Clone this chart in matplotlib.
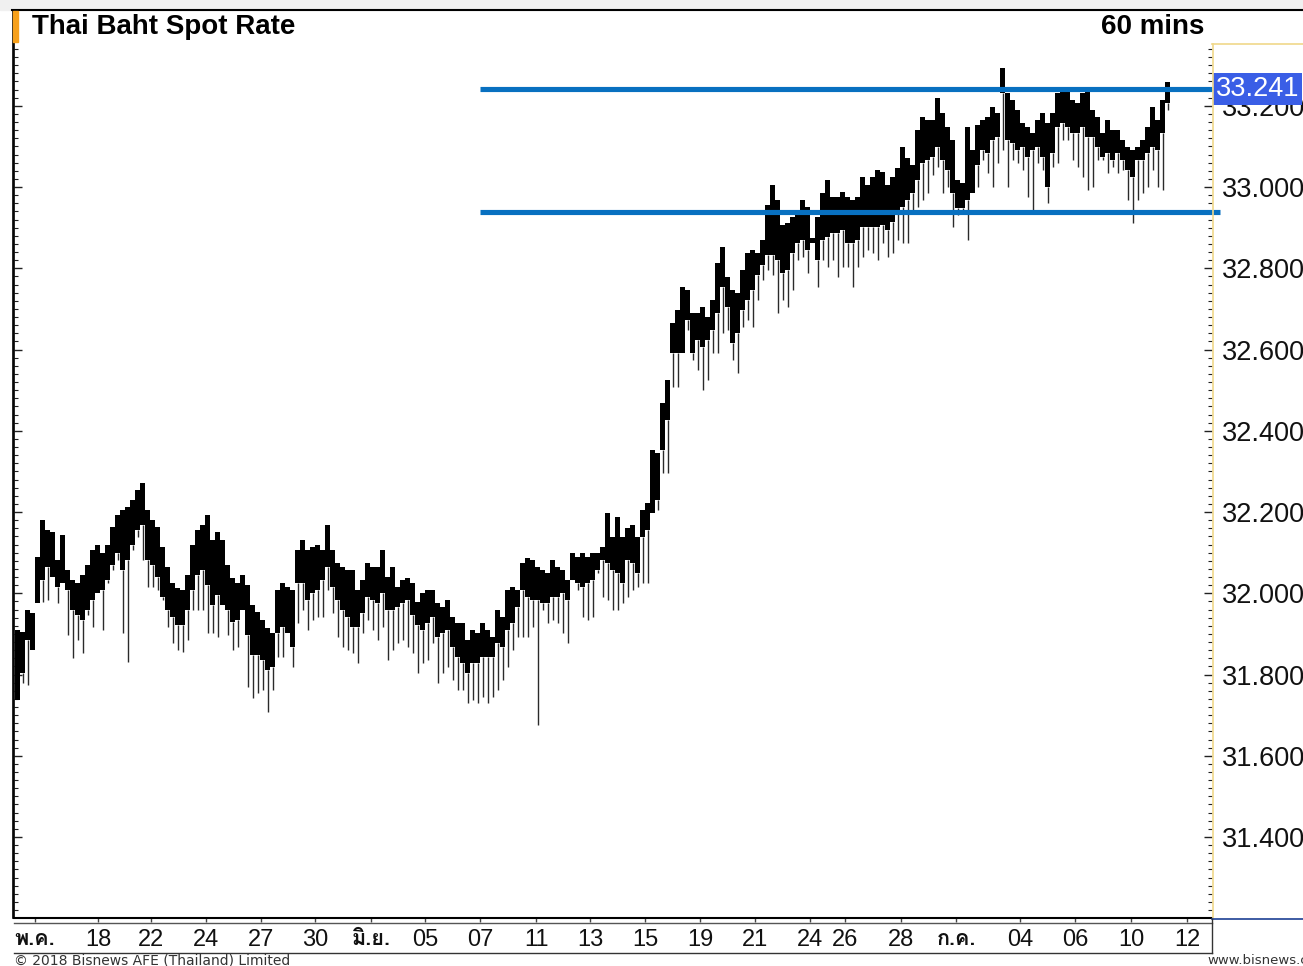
import matplotlib
matplotlib.use('Agg')
import matplotlib.pyplot as plt
import matplotlib.ticker as mticker
import matplotlib.transforms as mtransforms
from matplotlib import font_manager
from matplotlib.ft2font import FT2Font
from matplotlib.lines import Line2D
from matplotlib.patches import Rectangle

# 60 min bars, grouped: top of range, bottom of dense body, lowest wick
highs = [
    31.910, 31.905, 31.959, 31.951, 32.089, 32.180, 32.156, 32.151, 32.082, 32.143,
    32.057, 32.033, 32.025, 32.045, 32.070, 32.106, 32.119, 32.099, 32.119, 32.163,
    32.193, 32.205, 32.212, 32.230, 32.254, 32.271, 32.205, 32.180, 32.163, 32.114,
    32.065, 32.025, 32.013, 32.008, 32.045, 32.119, 32.156, 32.168, 32.193, 32.131,
    32.151, 32.131, 32.070, 32.038, 32.025, 32.045, 32.020, 31.971, 31.954, 31.934,
    31.914, 31.902, 32.008, 32.025, 32.015, 32.008, 32.106, 32.131, 32.106, 32.114,
    32.119, 32.106, 32.168, 32.106, 32.074, 32.065, 32.057, 32.057, 32.008, 32.033,
    32.074, 32.065, 32.065, 32.106, 32.040, 32.065, 32.015, 32.033, 32.038, 32.025,
    31.978, 32.000, 32.008, 32.008, 31.976, 31.966, 31.983, 31.942, 31.927, 31.927,
    31.885, 31.910, 31.902, 31.927, 31.910, 31.892, 31.959, 31.942, 32.008, 32.015,
    32.008, 32.074, 32.087, 32.082, 32.065, 32.057, 32.050, 32.082, 32.065, 32.057,
    32.033, 32.099, 32.089, 32.099, 32.089, 32.099, 32.099, 32.114, 32.198, 32.138,
    32.188, 32.138, 32.161, 32.168, 32.138, 32.205, 32.222, 32.353, 32.345, 32.468,
    32.525, 32.665, 32.697, 32.754, 32.746, 32.690, 32.690, 32.705, 32.680, 32.722,
    32.813, 32.852, 32.778, 32.746, 32.739, 32.796, 32.838, 32.845, 32.838, 32.870,
    32.956, 33.005, 32.968, 32.906, 32.911, 32.926, 32.936, 32.968, 32.951, 32.874,
    32.926, 32.985, 33.017, 32.975, 32.975, 32.988, 32.975, 32.968, 32.975, 33.025,
    33.005, 33.025, 33.042, 33.037, 33.005, 33.025, 33.047, 33.098, 33.071, 33.054,
    33.140, 33.172, 33.165, 33.165, 33.219, 33.182, 33.148, 33.116, 33.017, 33.010,
    33.148, 33.091, 33.153, 33.165, 33.172, 33.197, 33.182, 33.293, 33.231, 33.214,
    33.190, 33.158, 33.148, 33.133, 33.165, 33.182, 33.158, 33.182, 33.231, 33.239,
    33.239, 33.214, 33.207, 33.231, 33.239, 33.190, 33.172, 33.133, 33.165, 33.140,
    33.140, 33.116, 33.098, 33.091, 33.098, 33.116, 33.148, 33.197, 33.165, 33.214,
    33.258,
]
lows = [
    31.737, 31.804, 31.885, 31.860, 31.976, 32.033, 32.065, 32.040, 32.015, 32.025,
    32.008, 31.959, 31.946, 31.934, 31.959, 31.983, 32.000, 32.008, 32.033, 32.070,
    32.099, 32.057, 32.082, 32.119, 32.156, 32.168, 32.082, 32.070, 32.040, 31.991,
    31.959, 31.942, 31.922, 31.922, 31.959, 32.008, 32.045, 32.057, 32.020, 31.971,
    31.996, 31.971, 31.959, 31.929, 31.934, 31.959, 31.897, 31.848, 31.848, 31.836,
    31.811, 31.818, 31.902, 31.917, 31.902, 31.868, 32.025, 32.025, 31.983, 32.000,
    32.008, 32.033, 32.065, 32.015, 31.983, 31.959, 31.942, 31.917, 31.917, 31.951,
    31.991, 31.983, 31.976, 32.000, 31.959, 31.959, 31.966, 31.976, 31.983, 31.946,
    31.922, 31.910, 31.927, 31.942, 31.892, 31.902, 31.910, 31.868, 31.843, 31.828,
    31.804, 31.828, 31.828, 31.843, 31.843, 31.843, 31.878, 31.868, 31.910, 31.927,
    31.966, 32.008, 31.991, 31.983, 31.983, 31.976, 31.976, 31.991, 31.991, 32.000,
    31.983, 32.033, 32.025, 32.015, 32.025, 32.033, 32.057, 32.082, 32.074, 32.057,
    32.050, 32.025, 32.082, 32.074, 32.050, 32.138, 32.156, 32.198, 32.230, 32.353,
    32.426, 32.591, 32.591, 32.591, 32.673, 32.591, 32.623, 32.606, 32.623, 32.648,
    32.690, 32.754, 32.705, 32.616, 32.641, 32.697, 32.722, 32.746, 32.783, 32.808,
    32.833, 32.833, 32.820, 32.788, 32.796, 32.838, 32.862, 32.870, 32.845, 32.862,
    32.820, 32.870, 32.877, 32.887, 32.887, 32.894, 32.862, 32.862, 32.870, 32.902,
    32.902, 32.902, 32.902, 32.906, 32.894, 32.914, 32.938, 32.951, 32.968, 32.985,
    33.017, 33.059, 33.066, 33.074, 33.098, 33.066, 33.042, 32.985, 32.948, 32.948,
    32.968, 32.985, 33.054, 33.091, 33.084, 33.116, 33.123, 33.231, 33.116, 33.108,
    33.091, 33.098, 33.074, 33.091, 33.098, 33.074, 33.000, 33.084, 33.148, 33.158,
    33.148, 33.133, 33.133, 33.148, 33.123, 33.123, 33.098, 33.074, 33.084, 33.066,
    33.084, 33.066, 33.042, 33.025, 33.066, 33.066, 33.084, 33.098, 33.091, 33.133,
    33.207,
]
wicks = [
    31.737, 31.779, 31.774, 31.860, 31.976, 31.978, 31.983, 32.040, 31.976, 32.025,
    31.897, 31.841, 31.885, 31.853, 31.946, 31.917, 32.000, 31.910, 32.025, 32.057,
    32.082, 31.902, 31.831, 32.106, 32.138, 32.082, 32.015, 32.015, 32.008, 31.983,
    31.917, 31.878, 31.860, 31.855, 31.885, 31.959, 31.959, 31.959, 31.902, 31.902,
    31.892, 31.971, 31.897, 31.860, 31.868, 31.959, 31.769, 31.742, 31.754, 31.762,
    31.708, 31.762, 31.843, 31.843, 31.902, 31.818, 31.927, 31.959, 31.910, 31.934,
    31.942, 31.942, 32.008, 31.951, 31.892, 31.868, 31.860, 31.853, 31.828, 31.902,
    31.934, 31.910, 31.885, 31.917, 31.836, 31.860, 31.878, 31.885, 31.868, 31.853,
    31.804, 31.828, 31.836, 31.878, 31.779, 31.804, 31.818, 31.786, 31.762, 31.762,
    31.730, 31.737, 31.730, 31.745, 31.730, 31.745, 31.762, 31.786, 31.818, 31.860,
    31.892, 31.892, 31.892, 31.917, 31.676, 31.959, 31.927, 31.934, 31.927, 31.902,
    31.878, 32.033, 32.008, 31.942, 31.934, 31.942, 32.050, 31.991, 31.983, 31.959,
    31.959, 31.976, 31.991, 32.008, 32.015, 32.025, 32.025, 32.198, 32.205, 32.296,
    32.296, 32.508, 32.508, 32.591, 32.648, 32.574, 32.550, 32.500, 32.525, 32.591,
    32.591, 32.641, 32.648, 32.574, 32.542, 32.655, 32.673, 32.655, 32.722, 32.771,
    32.796, 32.783, 32.690, 32.722, 32.705, 32.746, 32.820, 32.828, 32.788, 32.862,
    32.754, 32.820, 32.803, 32.820, 32.778, 32.803, 32.803, 32.754, 32.803, 32.828,
    32.845, 32.838, 32.820, 32.862, 32.828, 32.838, 32.870, 32.862, 32.862, 32.943,
    32.951, 32.968, 32.985, 33.030, 33.049, 32.985, 33.000, 32.902, 32.931, 32.943,
    32.870, 32.985, 33.000, 33.066, 33.034, 33.000, 33.059, 33.091, 33.000, 33.066,
    33.059, 33.042, 32.975, 32.943, 33.059, 33.042, 32.961, 33.049, 33.059, 33.116,
    33.116, 33.066, 33.049, 33.025, 32.993, 33.000, 33.066, 33.066, 33.034, 33.049,
    33.034, 33.042, 32.968, 32.911, 32.968, 32.985, 33.000, 33.042, 33.000, 32.993,
    33.190,
]

date_labels = ['พ.ค.', '18', '22', '24', '27', '30', 'มิ.ย.', '05', '07', '11', '13',
               '15', '19', '21', '24', '26', '28', 'ก.ค.', '04', '06', '10', '12']
date_pos = [3.5, 16.1, 26.7, 37.7, 48.7, 59.5, 70.7, 81.5, 92.5, 103.7, 114.5,
            125.5, 136.5, 147.5, 158.5, 165.5, 176.7, 187.7, 200.5, 211.5, 222.7, 233.9]

resistance = 33.241
support = 32.938

W, H = 1303, 966


def fx(px):
    return px / W


def fy(py):
    return 1 - py / H


def thai_font(bold=True):
    # first installed font that has Thai glyphs, bold if there is one
    found = []
    for f in font_manager.fontManager.ttflist:
        try:
            if 0x0E1E in FT2Font(f.fname).get_charmap():
                found.append(f)
        except Exception:
            pass
    if not found:
        return font_manager.FontProperties(family='DejaVu Sans', weight='bold')
    found.sort(key=lambda f: (f.weight != 700) if bold else 0)
    return font_manager.FontProperties(fname=found[0].fname)


fig = plt.figure(figsize=(W / 100, H / 100), dpi=100)
fig.patch.set_facecolor('white')

# header strip and frame
fig.patches.append(Rectangle((0, fy(10)), 1, 1 - fy(10), transform=fig.transFigure,
                             color='#f0f0f0', zorder=0))
fig.add_artist(Line2D([fx(12), 1], [fy(10), fy(10)], color='black', lw=1.5))
fig.add_artist(Line2D([fx(13.5), fx(13.5)], [fy(10), fy(918)], color='black', lw=1.2))
fig.patches.append(Rectangle((fx(13), fy(42)), fx(5), fy(11) - fy(42), transform=fig.transFigure,
                             color='#f7a01a', zorder=3))
fig.text(fx(32), fy(27), 'Thai Baht Spot Rate', fontsize=20, fontweight='bold',
         family='Liberation Sans', va='center', ha='left')
fig.text(fx(1204), fy(27), '60 mins', fontsize=20, fontweight='bold',
         family='Liberation Sans', va='center', ha='right')

# price panel border on the right
fig.add_artist(Line2D([fx(1212.5), fx(1212.5)], [fy(44), fy(919)], color='#f0d88a', lw=1.2))
fig.add_artist(Line2D([fx(1212), 1], [fy(44), fy(44)], color='#f0d88a', lw=1.2))
fig.add_artist(Line2D([fx(1212), 1], [fy(919), fy(919)], color='#1c3f94', lw=1.2))

# date strip lines
fig.add_artist(Line2D([fx(14), fx(1212)], [fy(923), fy(923)], color='#555555', lw=1))
fig.add_artist(Line2D([fx(14), fx(1212)], [fy(952.5), fy(952.5)], color='#333333', lw=1))
fig.add_artist(Line2D([fx(1212), fx(1212)], [fy(919), fy(952.5)], color='#333333', lw=1))

fig.text(fx(14), fy(960), '\u00a9 2018 Bisnews AFE (Thailand) Limited', fontsize=10,
         family='DejaVu Sans', color='#333333', va='center', ha='left')
fig.text(fx(1207), fy(961), 'www.bisnews.com', fontsize=9.5, family='DejaVu Sans',
         color='#333333', va='center', ha='left')

ax = fig.add_axes([fx(14), fy(918), fx(1212) - fx(14), fy(42) - fy(918)])
ax.set_xlim(-0.7, 238.9)
ax.set_ylim(31.2006, 33.357)

x = list(range(len(highs)))
body = [h - l for h, l in zip(highs, lows)]
ax.vlines(x, wicks, lows, colors='#2a2a2a', lw=1.0, zorder=2)
ax.bar(x, body, bottom=lows, width=1.0, color='black', linewidth=0, zorder=3)

line_start = date_pos[date_labels.index('07')]
ax.plot([line_start, 238.9], [resistance, resistance], color='#0870c0', lw=3.7,
        solid_capstyle='butt', clip_on=False, zorder=4)
ax.plot([line_start, 240.5], [support, support], color='#0870c0', lw=3.7,
        solid_capstyle='butt', clip_on=False, zorder=4)

for side in ['top', 'right']:
    ax.spines[side].set_visible(False)
ax.spines['left'].set_linewidth(1.2)
ax.spines['bottom'].set_linewidth(1.5)

ax.yaxis.set_major_locator(mticker.MultipleLocator(0.2))
ax.yaxis.set_minor_locator(mticker.MultipleLocator(0.02))
ax.yaxis.set_major_formatter(mticker.FormatStrFormatter('%.3f'))
ax.tick_params(axis='y', which='both', left=True, right=True, labelleft=False,
               labelright=True, direction='in', color='#222222')
ax.tick_params(axis='y', which='major', length=6, width=1, pad=7,
               labelsize=19.5, labelcolor='#111111')
ax.tick_params(axis='y', which='minor', length=3, width=0.8)
for lab in ax.get_yticklabels():
    lab.set_family('Liberation Sans')

ax.set_xticks(date_pos)
ax.set_xticklabels(date_labels)
ax.tick_params(axis='x', direction='out', length=3, width=1, color='#444444', pad=5,
               labelsize=17, labelcolor='#111111')
thai = thai_font()
for lab in ax.get_xticklabels():
    if lab.get_text().isdigit():
        lab.set_family('Liberation Sans')
    else:
        lab.set_fontproperties(thai)
        lab.set_fontsize(15.5)

# current level tag
tag = mtransforms.blended_transform_factory(ax.transAxes, ax.transData)
ax.text(1.0033, resistance, '%.3f' % resistance, transform=tag, ha='left', va='center',
        fontsize=19.5, family='Liberation Sans', color='white', zorder=6, clip_on=False,
        bbox=dict(boxstyle='square,pad=0.1', fc='#3a5ee6', ec='none'))

plt.savefig('out.png', dpi=100)
